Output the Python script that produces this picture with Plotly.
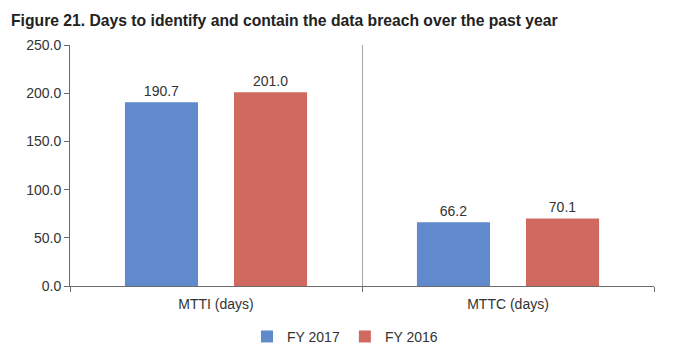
import plotly.graph_objects as go

categories = ["MTTI (days)", "MTTC (days)"]
series_names = ["FY 2017", "FY 2016"]
fy2017 = [190.7, 66.2]
fy2016 = [201.0, 70.1]
colors = ["#618acc", "#d06a61"]
y_ticks = [0, 50, 100, 150, 200, 250]

font_family = "Liberation Sans, Arial, sans-serif"

fig = go.Figure()
for name, vals, col in zip(series_names, [fy2017, fy2016], colors):
    fig.add_trace(go.Bar(
        x=categories, y=vals, name=name,
        marker=dict(color=col, line=dict(width=0)),
        text=[f"{v:.1f}" for v in vals], textposition="outside",
        textfont=dict(size=14, color="#333333", family=font_family),
        cliponaxis=False,
    ))

fig.update_layout(
    width=690, height=358,
    margin=dict(l=70, r=36, t=45, b=72, autoexpand=False),
    paper_bgcolor="white", plot_bgcolor="white",
    barmode="group", bargap=0.253, bargroupgap=0.33,
    font=dict(family=font_family, size=14, color="#333333"),
    title=dict(
        text="<b>Figure 21. Days to identify and contain the data breach over the past year</b>",
        x=0.016, xanchor="left", y=0.943, yanchor="middle",
        font=dict(size=15.7, color="#222222", family=font_family),
    ),
    showlegend=True,
    legend=dict(orientation="h", x=0.5, xref="container", xanchor="center",
                y=0.059, yref="container", yanchor="middle", itemwidth=30,
                font=dict(size=14, color="#333333"), traceorder="normal"),
    xaxis=dict(
        showline=True, linecolor="#6b6b6b", linewidth=1,
        tickson="boundaries", ticks="outside", ticklen=5, tickcolor="#6b6b6b",
        showgrid=True, gridcolor="#a6a6a6", gridwidth=1,
        tickfont=dict(size=14, color="#333333"),
        ticklabelstandoff=5,
    ),
    yaxis=dict(
        range=[0, 250], tickvals=y_ticks, tickformat=".1f",
        showline=True, linecolor="#6b6b6b", linewidth=1,
        ticks="outside", ticklen=5, tickcolor="#6b6b6b",
        showgrid=False, zeroline=False,
        tickfont=dict(size=14, color="#333333"),
    ),
)

fig.write_html("out.html",
               config={"displayModeBar": False},
               post_script="document.body.style.margin='0';document.body.style.overflow='hidden';")
